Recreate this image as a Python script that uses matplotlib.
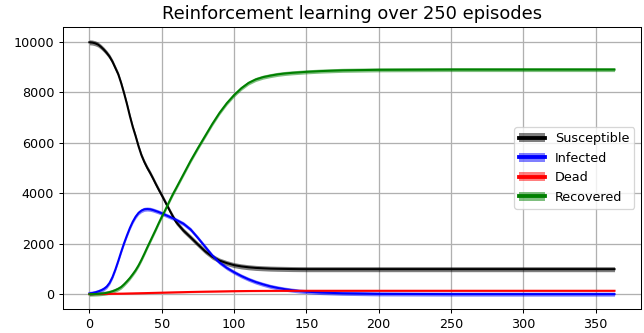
import matplotlib
matplotlib.use("Agg")
import matplotlib.pyplot as plt
from matplotlib.patches import Patch
from matplotlib.lines import Line2D
import numpy as np

# mean compartment sizes per day, averaged over the episodes
days = [0, 2, 4, 6, 8, 10, 12, 14, 16, 18, 20, 22, 24, 26, 28, 30, 32, 34, 36,
        38, 40, 42, 44, 46, 48, 50, 52, 54, 56, 58, 60,
        65, 70, 75, 80, 85, 90, 95, 100, 105, 110, 115, 120, 125, 130, 135,
        140, 145, 150, 160, 175, 200, 250, 300, 363]
susceptible = [9970, 9960, 9930, 9880, 9790, 9680, 9550, 9400, 9200, 8950,
               8700, 8350, 7950, 7520, 7050, 6620, 6250, 5850, 5500, 5230,
               5000, 4800, 4580, 4350, 4130, 3920, 3700, 3480, 3260, 3050,
               2850,
               2520, 2250, 1970, 1700, 1480, 1330, 1230, 1150, 1100, 1065,
               1040, 1025, 1012, 1005, 1000, 995, 992, 990, 990, 990, 990,
               990, 990, 990]
infected = [30, 45, 70, 105, 150, 210, 300, 450, 680, 980, 1320, 1680, 2020,
            2330, 2620, 2870, 3070, 3220, 3310, 3360, 3370, 3360, 3330, 3290,
            3250, 3200, 3150, 3100, 3050, 3000, 2940,
            2790, 2560, 2230, 1880, 1530, 1250, 1040, 870, 720, 590, 480, 390,
            310, 250, 200, 160, 125, 100, 65, 35, 12, 3, 2, 2]
dead = [0, 2, 4, 6, 8, 10, 12, 14, 16, 18, 20, 22, 24, 27, 30, 32, 35, 37, 40,
        42, 45, 48, 51, 54, 57, 60, 63, 66, 69, 72, 75,
        81, 88, 94, 100, 105, 110, 115, 120, 123, 126, 128, 130, 131, 132,
        133, 134, 134, 135, 135, 135, 135, 135, 135, 135]
recovered = [0, 2, 6, 12, 22, 35, 55, 80, 115, 160, 215, 285, 390, 510, 640,
             790, 950, 1140, 1360, 1600, 1850, 2090, 2330, 2570, 2820, 3060,
             3280, 3520, 3760, 3990, 4200,
             4740, 5280, 5780, 6260, 6740, 7180, 7560, 7880, 8150, 8360, 8500,
             8590, 8650, 8700, 8735, 8760, 8780, 8800, 8830, 8860, 8880, 8890,
             8890, 8890]

# spread between episodes (one standard deviation)
spread = {"Susceptible": 100, "Infected": 80, "Dead": 30, "Recovered": 80}

series = [("Susceptible", susceptible, "black"),
          ("Infected", infected, "blue"),
          ("Dead", dead, "red"),
          ("Recovered", recovered, "green")]

fig, ax = plt.subplots(figsize=(7.0, 3.62), dpi=92)
fig.subplots_adjust(left=0.098, right=0.995, top=0.919, bottom=0.072)

x = np.array(days)
handles = []
for name, vals, col in series:
    y = np.array(vals, dtype=float)
    ax.fill_between(x, y - spread[name], y + spread[name], color=col,
                    alpha=0.5, linewidth=0)
    ax.plot(x, y, color=col, lw=1.6)
    handles.append((Patch(facecolor=col, alpha=0.5),
                    Line2D([], [], color=col, lw=3)))

ax.legend(handles, [s[0] for s in series], loc="center right")
ax.set_title("Reinforcement learning over 250 episodes", fontsize=14)
ax.grid(True, color="#b0b0b0", lw=1)
ax.set_axisbelow(True)

fig.savefig("out.png", dpi=92)
